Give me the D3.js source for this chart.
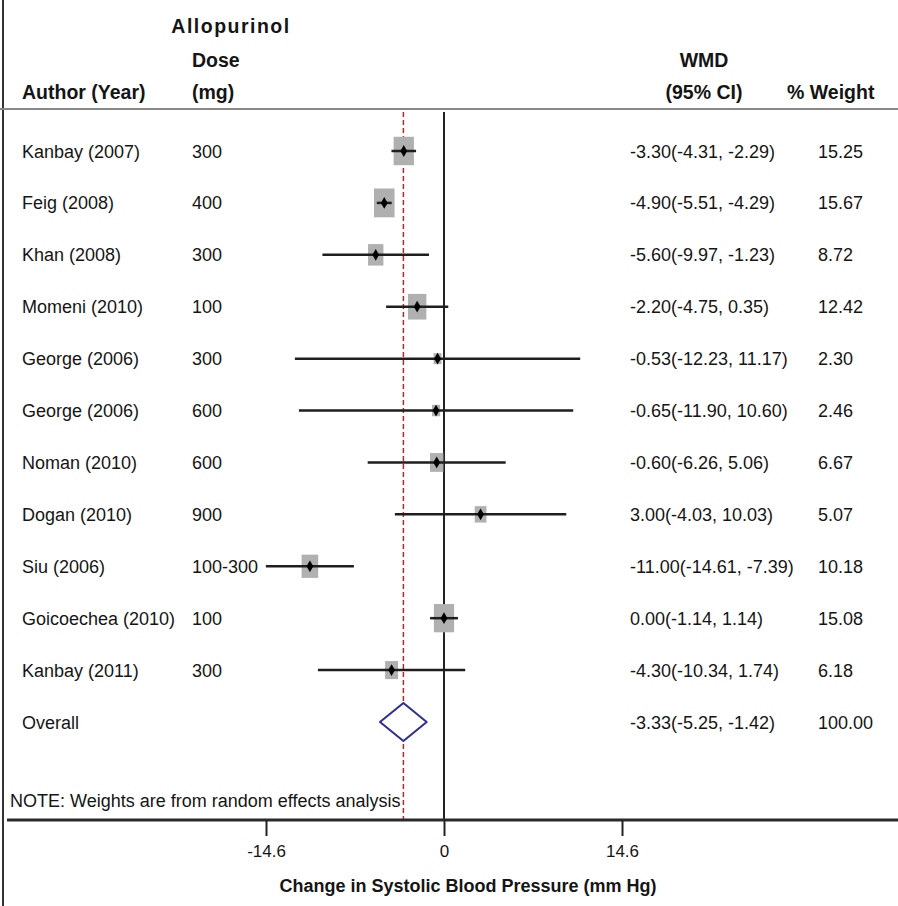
<!DOCTYPE html>
<html>
<head>
<meta charset="utf-8">
<script src="https://cdn.jsdelivr.net/npm/d3@7"></script>
<style>
  body { margin: 0; background: #fff; }
  text { font-family: "Liberation Sans", Arial, sans-serif; fill: #151515; }
  .hdr { font-weight: bold; font-size: 19.5px; }
  .row { font-size: 18px; }
  .tick text { font-size: 17px; }
</style>
</head>
<body>
<svg id="svg-1" width="898" height="906"></svg>
<script>
const authors = ["Kanbay (2007)", "Feig (2008)", "Khan (2008)", "Momeni (2010)", "George (2006)",
  "George (2006)", "Noman (2010)", "Dogan (2010)", "Siu (2006)", "Goicoechea (2010)", "Kanbay (2011)"];
const doses = ["300", "400", "300", "100", "300", "600", "600", "900", "100-300", "100", "300"];
const wmd = [-3.30, -4.90, -5.60, -2.20, -0.53, -0.65, -0.60, 3.00, -11.00, 0.00, -4.30];
const lower = [-4.31, -5.51, -9.97, -4.75, -12.23, -11.90, -6.26, -4.03, -14.61, -1.14, -10.34];
const upper = [-2.29, -4.29, -1.23, 0.35, 11.17, 10.60, 5.06, 10.03, -7.39, 1.14, 1.74];
const weights = [15.25, 15.67, 8.72, 12.42, 2.30, 2.46, 6.67, 5.07, 10.18, 15.08, 6.18];

const overall = { label: "Overall", est: -3.33, lo: -5.25, hi: -1.42, weight: 100.00 };
const xTicks = [-14.6, 0, 14.6];

const GREY_BOX = "#b0b0b0";
const DIAMOND = "#2d2d9a";
const REF_RED = "#b02a2a";

var svg = d3.select("#svg-1");

var x = d3.scaleLinear().domain([-14.6, 14.6]).range([266, 622]);

var rows = d3.range(authors.length + 1);
var y = d3.scalePoint().domain(rows).range([151, 722]);

var AXIS_Y = 820, TOP_Y = 109;

// frame lines
svg.append("line")
  .attr("x1", 3).attr("x2", 3).attr("y1", 0).attr("y2", 906)
  .attr("stroke", "#333").attr("stroke-width", 2);

svg.append("line")
  .attr("x1", 0).attr("x2", 898).attr("y1", TOP_Y).attr("y2", TOP_Y)
  .attr("stroke", "#888").attr("stroke-width", 2);

// headers
var hdr = svg.append("g").attr("class", "hdr");
hdr.append("text").attr("x", 231).attr("y", 33).attr("text-anchor", "middle")
  .style("letter-spacing", "1.5px").text("Allopurinol");
hdr.append("text").attr("x", 192).attr("y", 67).text("Dose");
hdr.append("text").attr("x", 192).attr("y", 99).text("(mg)");
hdr.append("text").attr("x", 22).attr("y", 99).text("Author (Year)");
hdr.append("text").attr("x", 704).attr("y", 67).attr("text-anchor", "middle").text("WMD");
hdr.append("text").attr("x", 704).attr("y", 99).attr("text-anchor", "middle").text("(95% CI)");
hdr.append("text").attr("x", 787).attr("y", 99).text("% Weight");

// reference lines
svg.append("line")
  .attr("x1", x(0)).attr("x2", x(0)).attr("y1", TOP_Y + 3).attr("y2", AXIS_Y)
  .attr("stroke", "#222").attr("stroke-width", 2);

svg.append("line")
  .attr("x1", x(overall.est)).attr("x2", x(overall.est))
  .attr("y1", TOP_Y + 3).attr("y2", AXIS_Y)
  .attr("stroke", REF_RED).attr("stroke-width", 1.5)
  .style("stroke-dasharray", "5, 3");

// studies
var studies = d3.range(authors.length);
var g = svg.append("g");

var box = function(i) { return Math.sqrt(weights[i]) * 5.2; };

g.selectAll("rect.box")
  .data(studies)
  .enter()
  .append("rect")
  .attr("class", "box")
  .attr("fill", GREY_BOX)
  .attr("x", function(i) { return x(wmd[i]) - box(i) / 2; })
  .attr("y", function(i) { return y(i) - box(i) * 0.7; })
  .attr("width", function(i) { return box(i); })
  .attr("height", function(i) { return box(i) * 1.4; });

g.selectAll("line.ci")
  .data(studies)
  .enter()
  .append("line")
  .attr("class", "ci")
  .attr("x1", function(i) { return x(lower[i]); })
  .attr("x2", function(i) { return x(upper[i]); })
  .attr("y1", function(i) { return y(i); })
  .attr("y2", function(i) { return y(i); })
  .attr("stroke", "#1e1e1e")
  .attr("stroke-width", 2.5);

g.selectAll("path.pt")
  .data(studies)
  .enter()
  .append("path")
  .attr("class", "pt")
  .attr("transform", function(i) { return "translate(" + x(wmd[i]) + "," + y(i) + ")"; })
  .attr("d", d3.symbol(d3.symbolDiamond, 40))
  .attr("fill", "#000");

// overall diamond
var oy = y(authors.length);
svg.append("path")
  .attr("d", "M" + x(overall.lo) + "," + oy +
    "L" + x(overall.est) + "," + (oy - 19) +
    "L" + x(overall.hi) + "," + oy +
    "L" + x(overall.est) + "," + (oy + 19) + "Z")
  .attr("fill", "#fff")
  .attr("stroke", DIAMOND)
  .attr("stroke-width", 2)
  .attr("stroke-linejoin", "round");

// text columns
function fmt(v) { return v.toFixed(2); }

var labels = svg.append("g").attr("class", "row");
rows.forEach(function(i) {
  var last = i === authors.length;
  var ty = y(i) + 6.5;
  labels.append("text").attr("x", 22).attr("y", ty).text(last ? overall.label : authors[i]);
  if (!last) labels.append("text").attr("x", 192).attr("y", ty).text(doses[i]);
  var est = last ? overall.est : wmd[i],
    lo = last ? overall.lo : lower[i],
    hi = last ? overall.hi : upper[i],
    wt = last ? overall.weight : weights[i];
  labels.append("text").attr("x", 630).attr("y", ty)
    .text(fmt(est) + "(" + fmt(lo) + ", " + fmt(hi) + ")");
  labels.append("text").attr("x", 818).attr("y", ty).text(fmt(wt));
});

svg.append("text")
  .attr("class", "row")
  .attr("x", 10).attr("y", 807)
  .text("NOTE: Weights are from random effects analysis");

// axis
svg.append("line")
  .attr("x1", 7).attr("x2", 898).attr("y1", AXIS_Y).attr("y2", AXIS_Y)
  .attr("stroke", "#2a2a2a").attr("stroke-width", 3);

var axis = svg.append("g")
  .attr("transform", "translate(0," + AXIS_Y + ")")
  .call(d3.axisBottom(x).tickValues(xTicks).tickSize(16).tickPadding(9)
    .tickFormat(function(d) { return d === 0 ? "0" : d.toFixed(1); }));
axis.select(".domain").remove();
axis.selectAll(".tick line").attr("stroke", "#222").attr("stroke-width", 2);
axis.selectAll(".tick text").attr("fill", "#151515").attr("font-family", null).attr("font-size", null);

svg.append("text")
  .attr("class", "hdr")
  .attr("x", x(0) + 24).attr("y", 892)
  .attr("text-anchor", "middle")
  .style("font-size", "18px")
  .text("Change in Systolic Blood Pressure (mm Hg)");
</script>
</body>
</html>
